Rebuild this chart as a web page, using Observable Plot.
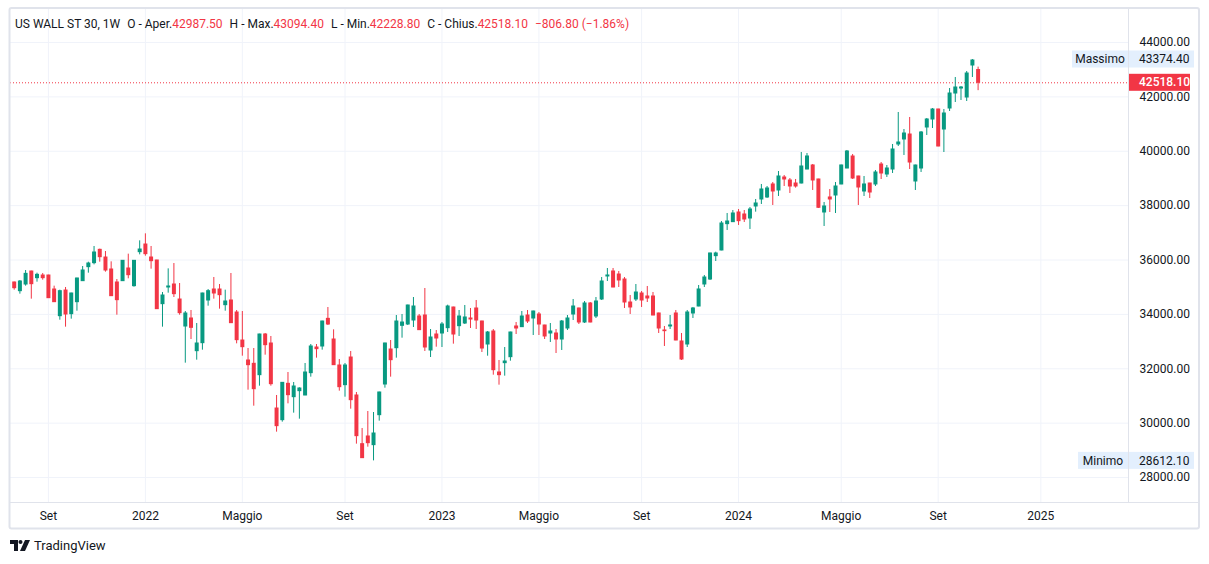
<!DOCTYPE html>
<html><head><meta charset="utf-8">
<script src="https://cdn.jsdelivr.net/npm/d3@7"></script>
<script src="https://cdn.jsdelivr.net/npm/@observablehq/plot@0.6"></script>
<style>
body{margin:0;background:#fff;font-family:Roboto,"Noto Sans",sans-serif;}
#wrap{position:relative;width:1209px;height:564px;overflow:hidden;}
#chart{position:absolute;left:0;top:0;}
#title{position:absolute;left:15px;top:16px;font-size:12px;line-height:16px;color:#131722;white-space:nowrap;}
#title .v{color:#F23645;}
#title .g{margin-left:7px;}
#logo{position:absolute;left:10px;top:538px;display:flex;align-items:center;font-size:13px;color:#131722;}
#logo svg{margin-right:4px;}
</style></head><body>
<div id="wrap">
<div id="chart"></div>
<div id="title">US WALL ST 30, 1W<span class="g">O - Aper.</span><span class="v">42987.50</span><span class="g">H - Max.</span><span class="v">43094.40</span><span class="g">L - Min.</span><span class="v">42228.80</span><span class="g">C - Chius.</span><span class="v">42518.10</span><span class="g v">−806.80 (−1.86%)</span></div>
<div id="logo"><svg width="20" height="11" viewBox="0 0 20 11"><path d="M0 0H8V11H4V4H0Z" fill="#131722"/><circle cx="10.5" cy="2" r="2" fill="#131722"/><path d="M15 0H20L15 11H10Z" fill="#131722"/></svg>TradingView</div>
</div>
<script>
const startDate = "2021-07-26";
const opens = [35173,34854,35099,35577,35332,35430,35430,34915,33934,34878,34008,34449,35222,35737,35884,36374,36092,35651,35173,35222,35688,35038,36288,36570,36092,35982,34376,34989,35099,34547,33554,33849,32647,32941,34511,34915,34915,34339,34511,34069,33039,32304,32181,31764,33260,32929,30538,30109,31446,30955,31176,31017,31838,32782,32819,33836,33076,32120,31397,32414,31017,29227,29509,29190,30293,31421,32708,32757,33579,33628,33775,33922,33959,32672,33260,33297,33493,34253,33567,33665,33849,34217,33738,32892,33371,31863,32206,32427,33555,33530,33959,33849,33996,33591,33297,33297,33076,33481,33996,34217,33702,34401,33923,34548,35394,35578,35467,35283,34437,34548,34768,34658,34658,34033,33408,33555,34033,33003,32893,34033,34290,35100,35283,36142,36350,37319,37392,37748,37674,37527,37969,38226,38300,38778,38557,39035,38925,38814,38814,39329,39477,38962,37748,38300,38373,38778,39366,39807,39072,38520,38814,38778,39513,39145,39329,40249,40433,40616,38888,39366,40874,41168,41536,40800,41573,42124,42308,41977,43154,42987.5];
const highs = [35190,35246,35614,35590,35516,35504,35440,35038,34891,34989,34780,35330,35761,35920,36497,36399,36313,35933,35283,35980,36215,35980,36705,36963,36497,35990,34805,35675,35871,35136,34106,34143,33665,34780,34915,35357,35099,34891,35504,34143,34106,32745,32745,33270,33297,33187,31017,31490,31862,31495,31299,32194,32892,32892,33750,34253,33432,32341,32194,32635,31127,29803,30428,30391,31140,32940,33039,33959,33996,34340,34621,33996,34952,33444,33407,33702,34339,34265,34143,34327,34217,34511,33750,33371,33444,32304,32782,33345,33702,34106,34143,34120,34069,33600,33665,33444,33775,33959,34548,34230,34474,34437,34621,35357,35688,35688,35578,35357,34695,35099,34842,35026,34805,34045,33555,33959,34143,33297,34143,34254,35063,35431,36250,36289,37417,37711,37821,37858,37821,37932,38226,38778,38704,38851,39256,39109,38998,38962,39955,39918,39513,38970,38116,38594,38851,39490,40028,39881,39080,39072,38820,39292,39587,39476,40249,41426,40800,41242,39490,40727,41205,41573,41545,41536,42308,42713,42382,42934,43374.4,43094.4];
const lows = [34891,34744,35038,34560,35185,35259,34590,34440,33787,33530,33824,34118,35210,35516,35822,35920,35553,34660,33971,35210,35308,35001,36190,36141,35663,34180,33530,34780,34621,33971,32206,33076,32316,32684,34302,34560,34192,34118,33670,32917,32463,31213,30624,31360,32500,31360,29668,30036,30710,30367,30146,31010,31691,32390,32684,33591,32120,31176,30955,30514,29227,28700,29116,28612.1,30073,31286,31691,32390,33125,33591,33518,33410,32635,32414,32794,32782,33334,32905,33187,33628,33481,33444,32598,32463,31764,31397,31728,32279,33260,33520,33665,33223,33223,33076,32966,32561,32672,33407,33775,33628,33665,33690,33849,34511,35210,34980,34989,34217,33996,34474,34254,34437,33950,33297,32819,33444,33030,32304,32782,33849,34280,34989,35247,35945,36340,37086,37380,37270,37380,37123,37760,38042,38263,38005,38336,38704,38447,38643,38800,39320,38557,37895,37233,37748,37711,38770,39360,38962,38005,38336,38263,38704,38961,39035,39182,40175,39844,39329,38557,39219,40580,40837,40165,39954,41462,41793,41867,41830,42713,42228.8];
const closes = [34964,35209,35491,35111,35455,35332,34596,34449,34854,33996,34768,35320,35614,35871,36276,36104,35614,34670,34523,35970,35442,35970,36386,36215,35957,34192,34695,35026,34744,34045,34033,33505,32929,34768,34854,34768,34707,34474,33677,33052,32794,32132,31250,33260,32868,31433,29889,31482,31029,31348,31274,31862,32819,32721,33738,33628,32132,31323,32120,30845,29521,28712,29263,29619,31127,32929,32316,33738,33701,34327,34290,33420,32782,33150,33113,33628,34290,33260,33922,33886,33812,33775,32745,33334,31948,31764,32267,33334,33481,33922,33738,34106,33628,33187,33371,33076,33738,33849,34290,33702,34401,33702,34474,35210,35431,34989,35247,34437,34254,34805,34511,34585,33959,33481,33383,33592,33040,32341,34070,34217,34916,35357,36240,36240,37343,37417,37711,37429,37490,37858,38079,38594,38631,38520,39072,38962,38704,38704,39440,39808,38925,37920,37969,38226,38704,39477,39991,38998,38667,38778,38483,39219,39182,39366,40065,40322,40653,39586,39476,40690,41168,41536,40175,41389,42124,42345,42345,42860,43338,42518.1];
const tickDates = ["2021-09-06","2022-01-03","2022-05-02","2022-09-05","2023-01-02","2023-05-01","2023-09-04","2024-01-01","2024-05-06","2024-09-02","2025-01-06"];
const tickLabels = ["Set","2022","Maggio","Set","2023","Maggio","Set","2024","Maggio","Set","2025"];
const yTicks = [28000,30000,32000,34000,36000,38000,40000,42000,44000];

const UP = "#089981", DOWN = "#F23645";
const start = new Date(startDate + "T00:00:00Z");
const data = opens.map((o, i) => ({
  date: d3.utcDay.offset(start, 7 * i),
  open: o, high: highs[i], low: lows[i], close: closes[i]
}));
const col = d => d.close >= d.open ? UP : DOWN;
const last = data[data.length - 1];
const maxHigh = d3.max(highs), minLow = d3.min(lows);
const xTicks = tickDates.map(s => new Date(s + "T00:00:00Z"));

const W = 1209, H = 564, mL = 10, mR = 81, mT = 9, mB = 62;
const plot = Plot.plot({
  width: W, height: H,
  marginLeft: mL, marginRight: mR, marginTop: mT, marginBottom: mB,
  style: {fontFamily: "Roboto, 'Noto Sans', sans-serif", fontSize: "12px", color: "#131722", background: "#fff"},
  x: {type: "utc", domain: [new Date("2021-07-21T11:00:00Z"), new Date("2025-04-23T14:00:00Z")]},
  y: {domain: [27081, 45214]},
  marks: [
    Plot.gridY(yTicks, {stroke: "#f0f3fa", strokeOpacity: 1}),
    Plot.gridX(xTicks, {stroke: "#f0f3fa", strokeOpacity: 1}),
    Plot.ruleY([last.close], {stroke: DOWN, strokeDasharray: "1,2", strokeWidth: 1}),
    Plot.ruleX(data, {x: "date", y1: "low", y2: "high", stroke: col, strokeWidth: 1}),
    Plot.ruleX(data, {x: "date", y1: d => Math.max(d.open, d.close), y2: d => Math.min(d.open, d.close), stroke: col, strokeWidth: 4, insetTop: -0.5, insetBottom: -0.5}),
    Plot.axisX(xTicks, {tickSize: 0, tickPadding: 9, tickFormat: (d, i) => tickLabels[i], fontSize: 12, fill: "#131722"}),
    Plot.axisY(yTicks, {anchor: "right", tickSize: 0, tickPadding: 11, tickFormat: d => d.toFixed(2), fontSize: 12, fill: "#131722"})
  ]
});
document.getElementById("chart").appendChild(plot);

// frame, separators and price labels (positions from the plot's own y scale)
const svg = d3.select(plot);
const ys = plot.scale("y");
const g = svg.append("g").attr("text-anchor", "start");
g.append("line").attr("x1", 1128.5).attr("x2", 1128.5).attr("y1", 9).attr("y2", H - mB).attr("stroke", "#e0e3eb");
g.append("line").attr("x1", 10).attr("x2", 1199).attr("y1", H - mB + 0.5).attr("y2", H - mB + 0.5).attr("stroke", "#e0e3eb");
g.append("rect").attr("x", 9.5).attr("y", 8).attr("width", 1189.5).attr("height", 520.5).attr("fill", "none").attr("stroke", "#e0e3eb").attr("stroke-width", 2).attr("rx", 2);

function tag(value, name, nameX, valueFill, valueColor, valueW) {
  const y = ys.apply(value);
  if (name) {
    g.append("rect").attr("x", nameX).attr("y", y - 8.5).attr("width", 1128 - nameX).attr("height", 17).attr("fill", "#e3effd");
    g.append("text").attr("x", (nameX + 1128) / 2).attr("y", y).attr("dy", "0.35em").attr("text-anchor", "middle")
      .attr("font-size", 12).attr("fill", "#131722").text(name);
  }
  g.append("rect").attr("x", 1129).attr("y", y - 8.5).attr("width", valueW).attr("height", 17).attr("fill", valueFill);
  g.append("text").attr("x", 1139).attr("y", y).attr("dy", "0.35em").attr("text-anchor", "start").attr("font-size", 12)
    .attr("fill", valueColor).attr("font-weight", name ? 400 : 500).text(value.toFixed(2));
}
tag(maxHigh, "Massimo", 1072, "#e3effd", "#131722", 65);
tag(minLow, "Minimo", 1078, "#e3effd", "#131722", 65);
tag(last.close, null, 0, DOWN, "#ffffff", 61);
</script>
</body></html>
